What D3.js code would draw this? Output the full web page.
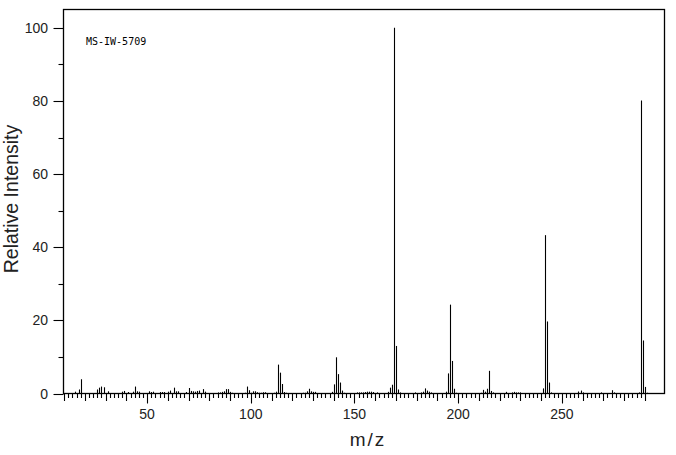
<!DOCTYPE html>
<html>
<head>
<meta charset="utf-8">
<script src="https://cdn.jsdelivr.net/npm/d3@7"></script>
<style>
  html, body { margin: 0; padding: 0; background: #fff; }
  svg { display: block; }
</style>
</head>
<body>
<svg id="chart" width="676" height="455"></svg>
<script>
// ---- data ----
const mzValues = [15,17,18,26,27,28,29,31,38,39,41,43,44,45,46,51,52,53,56,57,58,60,61,63,64,65,69,70,71,72,73,74,75,77,78,
  84,85,86,87,88,89,90,91,97,98,99,100,101,102,103,104,105,106,107,111,112,113,114,115,116,117,125,126,127,128,129,130,131,
  139,140,141,142,143,144,145,151,152,153,154,155,156,157,158,159,161,166,167,168,169,170,171,172,179,182,183,184,185,186,187,
  194,195,196,197,198,199,211,212,213,214,215,216,217,223,226,227,228,229,230,241,242,243,244,245,258,259,260,269,274,275,
  287,288,289,290,291];
const intensities = [0.5,1.1,3.9,1.1,1.6,1.9,1.7,0.6,0.5,0.7,0.4,0.5,1.9,0.6,0.5,0.6,0.4,0.5,0.4,0.4,0.4,0.5,0.8,1.6,0.6,0.6,0.4,1.5,0.7,0.6,0.5,0.7,0.8,1.2,0.5,
  0.3,0.3,0.45,0.6,1.2,1.2,0.45,0.2,0.2,1.9,0.9,0.2,0.6,0.6,0.35,0.2,0.2,0.35,0.35,0.2,0.5,7.9,5.7,2.6,0.4,0.2,0.2,0.2,0.6,1.3,0.6,0.45,0.45,
  0.45,2.5,9.9,5.3,3.0,0.8,0.2,0.3,0.3,0.3,0.3,0.4,0.5,0.5,0.5,0.4,0.3,0.45,1.6,2.4,100,13.0,1.1,0.3,0.3,0.3,0.5,1.4,0.8,0.5,0.3,
  0.5,5.5,24.3,8.9,1.3,0.2,0.2,1.0,0.5,1.3,6.2,0.7,0.3,0.45,0.3,0.45,0.3,0.3,0.3,1.4,43.3,19.7,3.0,0.3,0.55,0.8,0.3,0.3,0.9,0.3,
  0.3,80.1,14.5,1.8,0.2];
const xTickLabels = [50, 100, 150, 200, 250];
const yTickLabels = [0, 20, 40, 60, 80, 100];
const sampleLabel = "MS-IW-5709";
const xTitle = "m/z";
const yTitle = "Relative Intensity";

// ---- layout ----
const plotLeft = 63.5, plotRight = 664.5, plotTop = 9.5, plotBottom = 393.5;
const svg = d3.select("#chart");

const x = d3.scaleLinear().domain([9.69, 299.5]).range([plotLeft, plotRight]);
const y = d3.scaleLinear().domain([0, 105]).range([plotBottom, plotTop]);

// frame
svg.append("rect")
  .attr("x", plotLeft).attr("y", plotTop)
  .attr("width", plotRight - plotLeft).attr("height", plotBottom - plotTop)
  .attr("fill", "none").attr("stroke", "#000").attr("stroke-width", 1.3);

// bars
svg.append("g").selectAll("line")
  .data(mzValues.map((m, i) => ({ m, v: intensities[i] })))
  .join("line")
  .attr("x1", d => Math.round(x(d.m)) + 0.5)
  .attr("x2", d => Math.round(x(d.m)) + 0.5)
  .attr("y1", y(0))
  .attr("y2", d => y(d.v))
  .attr("stroke", "#000").attr("stroke-width", 1.1);

// x ticks
const xTicks = d3.range(10, 291, 2);
svg.append("g").selectAll("line")
  .data(xTicks).join("line")
  .attr("x1", d => Math.round(x(d)) + 0.5)
  .attr("x2", d => Math.round(x(d)) + 0.5)
  .attr("y1", plotBottom)
  .attr("y2", d => plotBottom + (d % 50 === 0 ? 10 : d % 10 === 0 ? 7.5 : 4.5))
  .attr("stroke", "#000").attr("stroke-width", 1.1);

svg.append("g").selectAll("text")
  .data(xTickLabels).join("text")
  .attr("x", d => x(d))
  .attr("y", 419)
  .attr("text-anchor", "middle")
  .attr("font-family", "Liberation Sans, Arial, sans-serif")
  .attr("font-size", 14)
  .attr("fill", "#222")
  .text(d => d);

// y ticks
const yTicks = d3.range(0, 101, 10);
svg.append("g").selectAll("line")
  .data(yTicks).join("line")
  .attr("x1", d => plotLeft - (d % 20 === 0 ? 10 : 5))
  .attr("x2", plotLeft)
  .attr("y1", d => Math.round(y(d)) + 0.5)
  .attr("y2", d => Math.round(y(d)) + 0.5)
  .attr("stroke", "#000").attr("stroke-width", 1.1);

svg.append("g").selectAll("text")
  .data(yTickLabels).join("text")
  .attr("x", 48)
  .attr("y", d => y(d) + 5)
  .attr("text-anchor", "end")
  .attr("font-family", "Liberation Sans, Arial, sans-serif")
  .attr("font-size", 14)
  .attr("fill", "#222")
  .text(d => d);

// annotation
svg.append("text")
  .attr("x", 86).attr("y", 45)
  .attr("font-family", "DejaVu Sans Mono, monospace")
  .attr("font-size", 10)
  .attr("fill", "#000")
  .text(sampleLabel);

// axis titles
svg.append("text")
  .attr("x", 368).attr("y", 446)
  .attr("text-anchor", "middle")
  .attr("font-family", "Liberation Sans, Arial, sans-serif")
  .attr("font-size", 19)
  .attr("letter-spacing", 2)
  .attr("fill", "#222")
  .text(xTitle);

svg.append("text")
  .attr("transform", "translate(18,199) rotate(-90)")
  .attr("text-anchor", "middle")
  .attr("font-family", "Liberation Sans, Arial, sans-serif")
  .attr("font-size", 19.5)
  .attr("fill", "#222")
  .text(yTitle);
</script>
</body>
</html>
